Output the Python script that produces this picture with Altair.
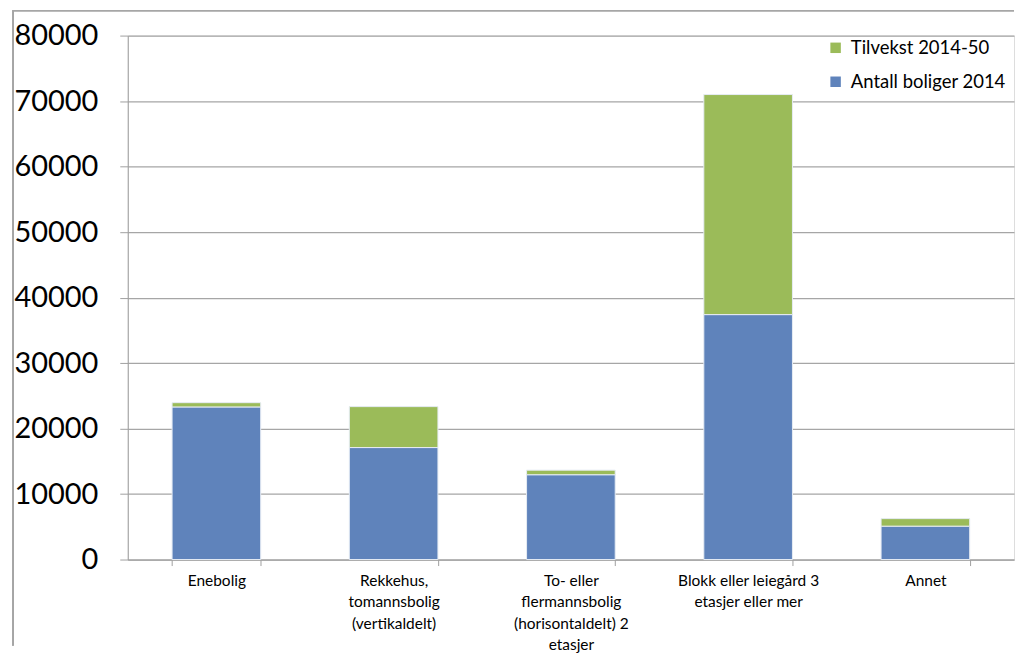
import altair as alt
import pandas as pd

categories = [
    "Enebolig",
    "Rekkehus,|tomannsbolig|(vertikaldelt)",
    "To- eller|flermannsbolig|(horisontaldelt) 2|etasjer",
    "Blokk eller leiegård 3|etasjer eller mer",
    "Annet",
]
antall_2014 = [23300, 17100, 12950, 37400, 5100]
tilvekst_2014_50 = [650, 6250, 700, 33600, 1150]

series_names = ["Tilvekst 2014-50", "Antall boliger 2014"]
series_colors = ["#9bbb59", "#5f83bb"]
y_ticks = [0, 10000, 20000, 30000, 40000, 50000, 60000, 70000, 80000]

rows = []
for c, a, t in zip(categories, antall_2014, tilvekst_2014_50):
    rows.append({"kategori": c, "serie": "Antall boliger 2014", "verdi": a, "rekkefolge": 0})
    rows.append({"kategori": c, "serie": "Tilvekst 2014-50", "verdi": t, "rekkefolge": 1})
df = pd.DataFrame(rows)

FONT = "Lato"
W, H = 888, 525

bars = alt.Chart(df).mark_bar(stroke="#e6ecf4", strokeWidth=1).encode(
    x=alt.X(
        "kategori:N",
        sort=categories,
        scale=alt.Scale(paddingInner=0.5, paddingOuter=0.25),
        axis=alt.Axis(
            title=None,
            labelAngle=0,
            labelExpr="split(datum.label, '|')",
            labelFontSize=15.5,
            labelFont=FONT,
            labelColor="#000000",
            labelLineHeight=21.5,
            labelPadding=8,
            labelBaseline="top",
            tickBand="extent",
            tickSize=6,
            tickColor="#a0a0a0",
            domainColor="#a0a0a0",
            grid=False,
        ),
    ),
    y=alt.Y(
        "verdi:Q",
        stack="zero",
        scale=alt.Scale(domain=[0, 80000], nice=False),
        axis=alt.Axis(
            title=None,
            values=y_ticks,
            format="d",
            labelFontSize=29,
            labelFont=FONT,
            labelColor="#000000",
            labelPadding=22,
            tickSize=8,
            tickColor="#a0a0a0",
            domainColor="#a0a0a0",
            gridColor="#a6a6a6",
            gridWidth=1.3,
        ),
    ),
    color=alt.Color(
        "serie:N",
        scale=alt.Scale(domain=series_names, range=series_colors),
        legend=alt.Legend(
            title=None,
            orient="none",
            legendX=700,
            legendY=3,
            symbolType="square",
            symbolSize=110,
            symbolStrokeWidth=0,
            labelFontSize=18.5,
            labelFont=FONT,
            labelColor="#000000",
            labelLimit=300,
            rowPadding=15,
            labelOffset=6,
        ),
    ),
    order=alt.Order("rekkefolge:Q", sort="ascending"),
)

frame_left = alt.Chart(df).mark_rule(color="#a6a6a6", strokeWidth=1).encode(
    x=alt.value(-115), y=alt.value(-25), y2=alt.value(H + 86)
)
frame_top = alt.Chart(df).mark_rule(color="#a6a6a6", strokeWidth=1).encode(
    x=alt.value(-115), x2=alt.value(W), y=alt.value(-25)
)

chart = (
    alt.layer(frame_left, frame_top, bars)
    .properties(width=W, height=H, padding={"left": 4, "top": 1, "right": 0, "bottom": 0})
    .configure_view(stroke=None)
    .configure(background="#ffffff")
)

chart.save("out.html", embed_options={"renderer": "svg", "actions": False})
